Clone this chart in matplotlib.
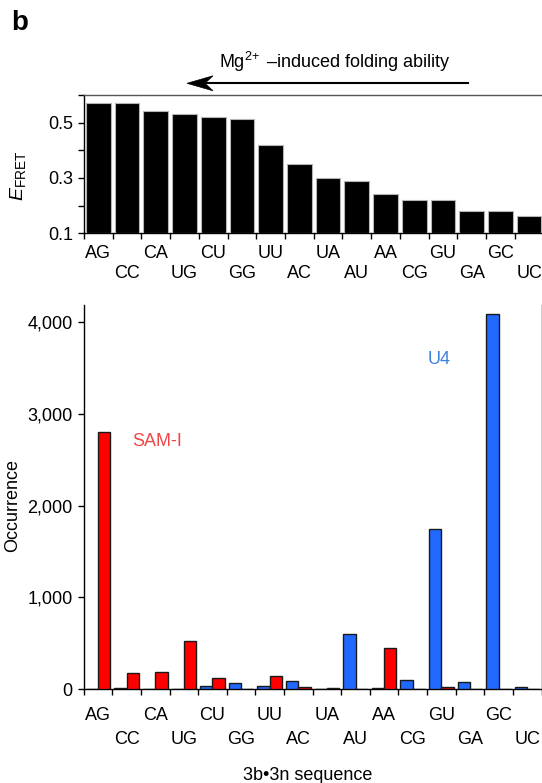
import numpy as np
import matplotlib
matplotlib.use("Agg")
import matplotlib.pyplot as plt
from matplotlib.patches import Polygon
from matplotlib.lines import Line2D
from matplotlib.ticker import FuncFormatter, MultipleLocator

plt.rcParams["font.family"] = ["Liberation Sans", "DejaVu Sans"]
plt.rcParams["font.size"] = 13
plt.rcParams["mathtext.fontset"] = "custom"
plt.rcParams["mathtext.rm"] = "Liberation Sans"
plt.rcParams["mathtext.it"] = "Liberation Sans:italic"

# 3b*3n base pairs, ordered by Mg2+-induced folding ability
pairs = ["AG", "CC", "CA", "UG", "CU", "GG", "UU", "AC",
         "UA", "AU", "AA", "CG", "GU", "GA", "GC", "UC"]
e_fret = [0.571, 0.571, 0.542, 0.531, 0.522, 0.512, 0.42, 0.351,
          0.30, 0.29, 0.242, 0.222, 0.222, 0.181, 0.181, 0.162]

# occurrence of each pair in the two riboswitch families
u4_counts = [3, 15, 3, 3, 30, 65, 35, 87, 4, 603, 15, 98, 1742, 73, 4095, 20]
sam_counts = [2800, 178, 185, 524, 124, 0, 142, 22, 8, 0, 444, 3, 20, 0, 0, 0]

RED = "#ff0000"
BLUE = "#2168ff"
FS = 13

W, H = 542, 783
fig = plt.figure(figsize=(W / 100, H / 100), dpi=100)


def px(x, y):
    # pixel position (from top-left) -> figure fraction
    return x / W, 1 - y / H


def axes_box(left, top, right, bottom):
    l, t = px(left, top)
    r, b = px(right, bottom)
    return [l, b, r - l, t - b]


def pair_labels(ax, row_gap):
    # staggered two-row category labels under the bars
    for i, lab in enumerate(pairs):
        off = row_gap[i % 2]
        ax.annotate(lab, xy=(i, 0), xycoords=("data", "axes fraction"),
                    xytext=(0, -off), textcoords="offset pixels",
                    ha="center", va="center", fontsize=FS)


x = np.arange(len(pairs))
edges = np.arange(-0.5, len(pairs) + 0.5, 1)

# ---------- E_FRET panel ----------
ax1 = fig.add_axes(axes_box(84, 95, 543.5, 233.3))
ax1.bar(x, np.array(e_fret) - 0.1, bottom=0.1, width=0.86, color="black",
        edgecolor="#b5b5b5", linewidth=0.8, zorder=3)
ax1.set_xlim(-0.5, len(pairs) - 0.5)
ax1.set_ylim(0.1, 0.6)
ax1.yaxis.set_major_locator(MultipleLocator(0.1))
ax1.yaxis.set_major_formatter(
    FuncFormatter(lambda v, p: f"{v:.1f}" if round(v * 10) % 2 == 1 else ""))
ax1.set_xticks(edges)
ax1.set_xticklabels([])
ax1.tick_params(direction="out", length=4, width=1, pad=4, labelsize=FS)
ax1.spines["right"].set_visible(False)
ax1.spines["top"].set_color("#555555")
ax1.spines["top"].set_linewidth(1.0)
ax1.spines["left"].set_linewidth(1.0)
ax1.spines["bottom"].set_linewidth(1.0)
pair_labels(ax1, (20, 40))

fig.text(*px(18, 176), r"$E_{\mathrm{FRET}}$", rotation=90,
         ha="center", va="center", fontsize=FS + 1)

# ---------- occurrence panel ----------
ax2 = fig.add_axes(axes_box(83.7, 305, 541.5, 689))
bw = 0.43
ax2.bar(x - bw / 2, u4_counts, width=bw, color=BLUE, edgecolor="#1a1a1a",
        linewidth=1.0, zorder=3)
ax2.bar(x + bw / 2, sam_counts, width=bw, color=RED, edgecolor="#1a1a1a",
        linewidth=1.0, zorder=3)
ax2.set_xlim(-0.5, len(pairs) - 0.5)
ax2.set_ylim(0, 4190)
ax2.set_yticks([0, 1000, 2000, 3000, 4000])
ax2.yaxis.set_major_formatter(FuncFormatter(lambda v, p: f"{int(v):,}"))
ax2.set_xticks(edges)
ax2.set_xticklabels([])
ax2.tick_params(direction="out", length=4, width=1, pad=4, labelsize=FS)
ax2.spines["top"].set_visible(False)
for s in ("left", "bottom", "right"):
    ax2.spines[s].set_linewidth(1.0)
pair_labels(ax2, (26, 51))

ax2.text(1.21, 2700, "SAM-I", color="#f04646", fontsize=FS,
         ha="left", va="center")
ax2.text(11.53, 3590, "U4", color="#3f80da", fontsize=FS,
         ha="left", va="center")

fig.text(*px(12.5, 506), "Occurrence", rotation=90,
         ha="center", va="center", fontsize=FS)
fig.text(*px(308, 775), "3b\u20223n sequence", ha="center", va="center",
         fontsize=FS)

# ---------- panel letter and folding-ability arrow ----------
fig.text(*px(19.5, 23), "b", fontsize=20, fontweight="bold",
         ha="center", va="center")
fig.text(*px(335, 61.5), r"Mg$^{2\!+}$ " + "\u2013induced folding ability",
         ha="center", va="center", fontsize=FS)

ay = 83.3
shaft = Line2D([px(205, ay)[0], px(468, ay)[0]], [px(0, ay)[1]] * 2,
               transform=fig.transFigure, color="black", linewidth=1.5)
head = Polygon([px(187, ay), px(213, ay - 7.5), px(205, ay), px(213, ay + 7.5)],
               closed=True, transform=fig.transFigure, facecolor="black",
               edgecolor="black", linewidth=0.5)
fig.add_artist(shaft)
fig.add_artist(head)

fig.savefig("out.png", dpi=100)
